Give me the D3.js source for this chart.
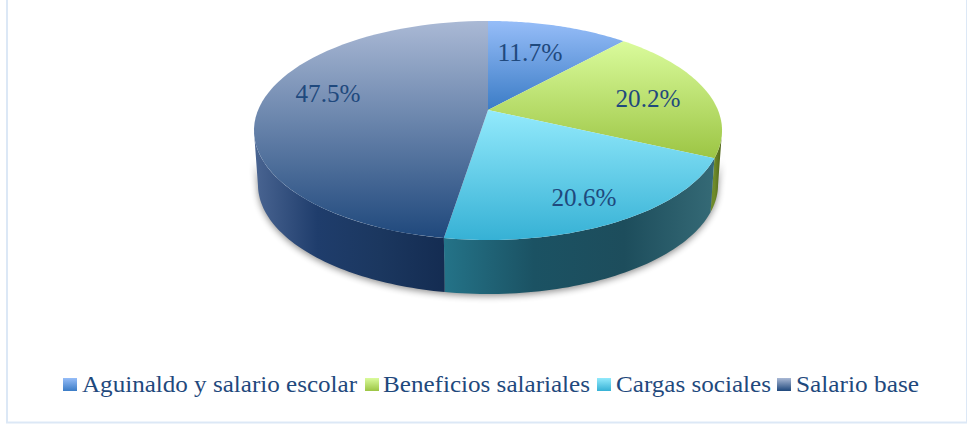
<!DOCTYPE html>
<html><head><meta charset="utf-8">
<script src="https://cdn.jsdelivr.net/npm/d3@7"></script>
<style>html,body{margin:0;padding:0;background:#fff}svg{display:block}</style>
</head><body><svg id="c" width="967" height="424"></svg>
<script>
const categories = ["Aguinaldo y salario escolar","Beneficios salariales","Cargas sociales","Salario base"];
const values = [11.7,20.2,20.6,47.5];
const labels = ["11.7%","20.2%","20.6%","47.5%"];
const topColors = [["#96BDF8","#3B7CC6"],["#DAFB9C","#9CC544"],["#93EAFC","#36B1D5"],["#AAB9D5","#1F487C"]];
const sideColors = [["#2B5A94","#2B5A94"],["#6E8A2A","#4C5F16"],["#247388","#1B5263","#1D4D5C","#356A76"],["#4A6592","#1F3D6C","#1B375F","#142C52"]];
const labelPos = [[530,53],[648,99],[584,198],[328,94]];

const svg = d3.select("#c"), defs = svg.append("defs");
svg.append("rect").attr("x",7).attr("y",-4).attr("width",960).attr("height",426.5)
  .attr("fill","#fff").attr("stroke","#DCE8F6").attr("stroke-width",2);

// perspective disc projection
const K=-0.187, Ax=229.9, Ay=105.7, CX=488, CY=110;
const proj=(t,s=1,dy=0)=>{const u=Math.sin(t),v=-Math.cos(t),d=1+K*v;return [CX+s*Ax*u/d,CY+Ay*v/d+dy];};
const pie=d3.pie().sort(null).value(d=>d)(values);
const arcPts=(a,b,s,dy)=>d3.range(0,61).map(i=>proj(a+(b-a)*i/60,s,dy));
const line=d3.line();
const DEPTH=54,S2=0.983;

// silhouette tangents: angles of the rim's rightmost and leftmost points
const samples=d3.range(0,720).map(i=>i/720*2*Math.PI);
const tRight=samples[d3.greatestIndex(samples,t=>proj(t)[0])];
const tLeft=samples[d3.leastIndex(samples,t=>proj(t)[0])];

const sh=defs.append("filter").attr("id","sh").attr("x","-10%").attr("y","-10%").attr("width","120%").attr("height","125%");
sh.append("feGaussianBlur").attr("stdDeviation",3.5);
const silhouette=()=>arcPts(tRight,tLeft,1,0).concat(arcPts(tRight,tLeft,S2,DEPTH).reverse());
svg.append("path").attr("d",line(arcPts(tRight,tLeft,S2,DEPTH+2).concat(arcPts(tRight,tLeft,1,20).reverse()))+"Z")
  .attr("fill","#000").attr("opacity",.45).attr("filter","url(#sh)");

function grad(id,cols,vertical,x1,x2){
  const g=defs.append("linearGradient").attr("id",id).attr("gradientUnits",vertical?"objectBoundingBox":"userSpaceOnUse");
  if(vertical) g.attr("x1",0).attr("y1",0).attr("x2",0).attr("y2",1);
  else g.attr("x1",x1).attr("y1",0).attr("x2",x2).attr("y2",0);
  cols.forEach((c,i)=>g.append("stop").attr("offset",i/(cols.length-1)).attr("stop-color",c));
}
// sides, only the part of each slice that faces the viewer
[0,1,2,3].forEach(i=>{
  const p=pie[i];
  const a0=Math.max(p.startAngle,tRight), b0=Math.min(p.endAngle,tLeft);
  if(a0>=b0) return;
  const a=arcPts(a0,b0,1,0), b=arcPts(a0,b0,S2,DEPTH).reverse();
  const xs=a.map(q=>q[0]);
  grad("s"+i,sideColors[i],false,Math.min(...xs),Math.max(...xs));
  svg.append("path").attr("d",line(a.concat(b))+"Z").attr("fill",`url(#s${i})`);
});
// tops
pie.forEach((p,i)=>{
  grad("t"+i,topColors[i],true);
  const pts=[[CX,CY]].concat(arcPts(p.startAngle,p.endAngle,1,0));
  svg.append("path").attr("d",line(pts)+"Z").attr("fill",`url(#t${i})`);
});
// labels
const FONT="'Liberation Serif',serif", INK="#1F497D";
labels.forEach((l,i)=>svg.append("text").attr("x",labelPos[i][0]).attr("y",labelPos[i][1]+8)
  .attr("text-anchor","middle").attr("font-family",FONT).attr("font-size",26).attr("fill",INK)
  .attr("textLength",65).attr("lengthAdjust","spacingAndGlyphs").text(l));
// legend
const legX=[[63,82,275],[365,383,207],[597,616,155],[777,796,123]];
categories.forEach((c,i)=>{
  svg.append("rect").attr("x",legX[i][0]).attr("y",378).attr("width",14).attr("height",13).attr("fill",`url(#t${i})`);
  svg.append("text").attr("x",legX[i][1]).attr("y",392).attr("font-family",FONT).attr("font-size",24)
    .attr("fill",INK).attr("textLength",legX[i][2]).attr("lengthAdjust","spacingAndGlyphs").text(c);
});
</script></body></html>
